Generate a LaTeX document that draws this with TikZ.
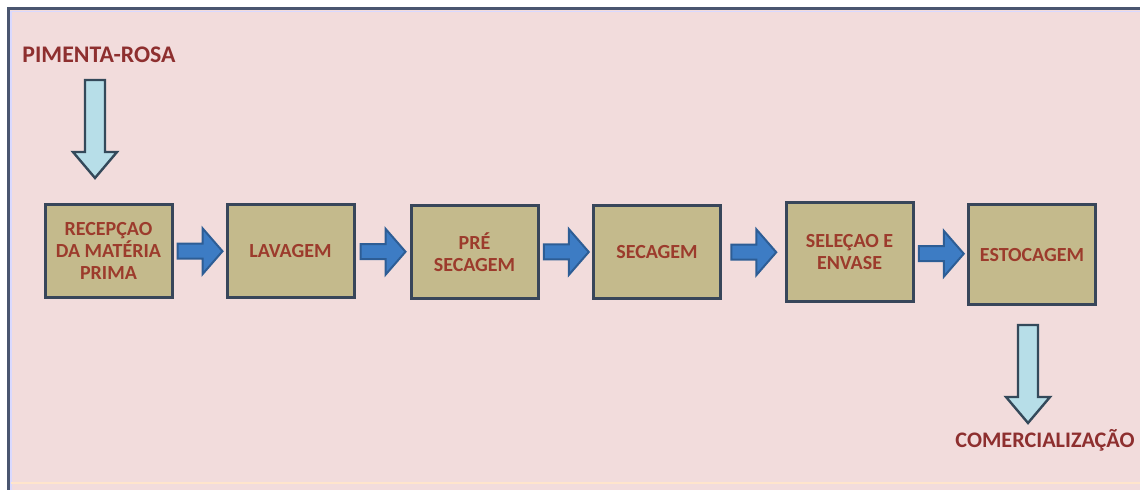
\documentclass[tikz,border=0pt]{standalone}
\usepackage{fontspec}
\setmainfont{Carlito}
\usetikzlibrary{calc}
\definecolor{bgpink}{HTML}{F2DCDC}
\definecolor{frameline}{HTML}{4A5670}
\definecolor{boxfill}{HTML}{C4BA8C}
\definecolor{boxline}{HTML}{38465A}
\definecolor{boxtext}{HTML}{9C3B2C}
\definecolor{titlered}{HTML}{8E2F2F}
\definecolor{arrowblue}{HTML}{3D7CC4}
\definecolor{arrowline}{HTML}{2D5D95}
\definecolor{inblue}{HTML}{B7DEE8}
\definecolor{inline}{HTML}{34495A}
\tikzset{
	stage/.style={draw=boxline,fill=boxfill,line width=1.5pt,minimum width=63.5pt,minimum height=46.5pt,
		align=center,text=boxtext,inner sep=2pt,font=\bfseries\fontsize{10}{11}\selectfont},
	flowarrow/.style={draw=arrowline,fill=arrowblue,line width=1pt},
	inarrow/.style={draw=inline,fill=inblue,line width=1.2pt},
	title/.style={text=titlered,inner sep=0pt,font=\bfseries\fontsize{11.9}{14}\selectfont}
}
\begin{document}
\begin{tikzpicture}[x=0.5pt,y=-0.5pt]
\useasboundingbox (0,0) rectangle (1140,490);
\fill[bgpink] (9,9) rectangle (1140,490);
\draw[frameline,line width=1.5pt] (8.5,490) -- (8.5,8.5) -- (1140,8.5);
\draw[white!85!blue,line width=0.8pt] (11,490) -- (11,11.5) -- (1140,11.5);
\draw[white!80!orange,line width=0.8pt] (11,483) -- (1140,483);
\node[title] (pimenta) at (99,55) {PIMENTA-ROSA};
\node[stage] (recepcao) at (108.5,251) {RECEPÇAO\\DA MATÉRIA\\PRIMA};
\node[stage] (lavagem) at (290.5,251.5) {LAVAGEM};
\node[stage] (presecagem) at (474.5,252) {PRÉ\\SECAGEM};
\node[stage] (secagem) at (657,252) {SECAGEM};
\node[stage,minimum height=49.5pt] (selecao) at (849.5,252.5) {SELEÇAO E\\ENVASE};
\node[stage,minimum height=50pt] (estocagem) at (1032,255) {ESTOCAGEM};
\node[title,font=\bfseries\fontsize{11.1}{13}\selectfont] (comercial) at (1045,440) {COMERCIALIZAÇÃO};
\coordinate (intop) at (95,80);
\coordinate (intip) at (95,178);
\coordinate (outtop) at (1028,325);
\coordinate (outtip) at (1028,423);
% arrows between the stages
\foreach \a/\b in {recepcao/lavagem,lavagem/presecagem,presecagem/secagem,secagem/selecao,selecao/estocagem} {
	\coordinate (mid) at ($(\a.east)!0.5!(\b.west)$);
	\draw[flowarrow] ($(mid)+(-22,-7.5)$) -- ($(mid)+(3,-7.5)$) -- ($(mid)+(3,-23)$) -- ($(mid)+(23,0)$)
		-- ($(mid)+(3,23)$) -- ($(mid)+(3,7.5)$) -- ($(mid)+(-22,7.5)$) -- cycle;
}
% in and out
\foreach \t/\h in {intop/intip,outtop/outtip} {
	\draw[inarrow] ($(\t)+(-10,0)$) -- ($(\h)+(-10,-26)$) -- ($(\h)+(-22,-26)$) -- (\h)
		-- ($(\h)+(22,-26)$) -- ($(\h)+(10,-26)$) -- ($(\t)+(10,0)$) -- cycle;
}
\end{tikzpicture}
\end{document}
